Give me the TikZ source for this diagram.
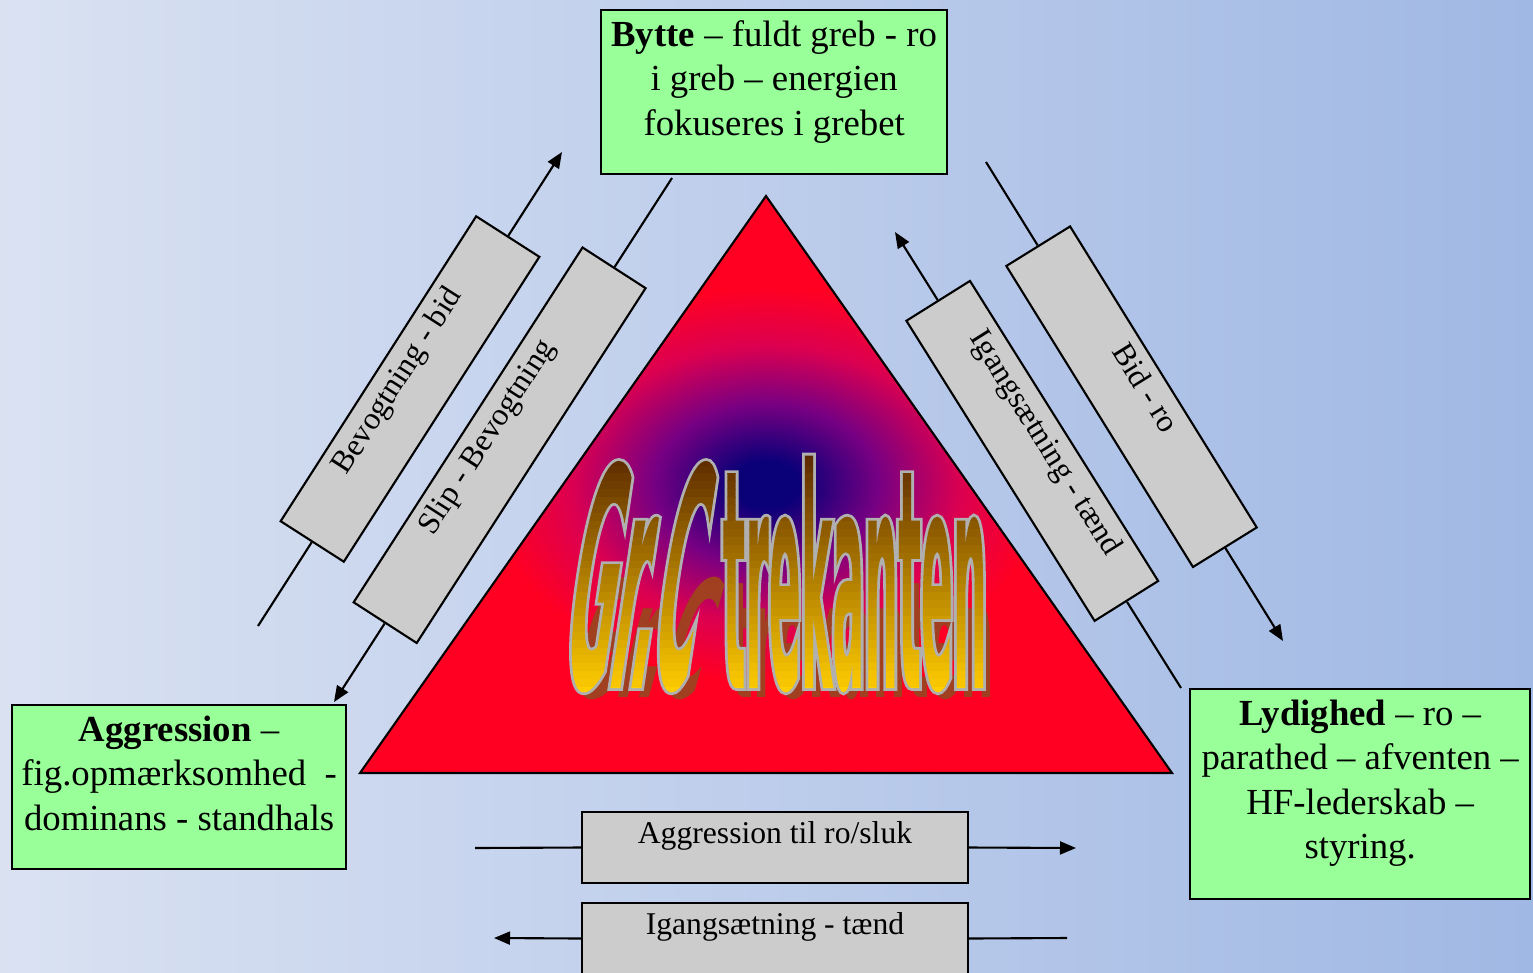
\documentclass[tikz,border=0pt]{standalone}
\usepackage{fontspec}
\setmainfont{Liberation Serif}
\usetikzlibrary{arrows.meta}

\newfontface\titlefont{DejaVu Sans Bold}[FakeStretch=0.155]
\newfontface\titleslant{DejaVu Sans Bold}[FakeStretch=0.185,FakeSlant=0.15]

\definecolor{bgleft}{RGB}{218,226,242}
\definecolor{bgright}{RGB}{160,184,228}
\definecolor{boxgreen}{RGB}{153,255,153}
\definecolor{boxgrey}{RGB}{204,204,204}
\definecolor{triin}{RGB}{10,0,120}
\definecolor{trimid}{RGB}{120,0,130}
\definecolor{trihot}{RGB}{220,0,80}
\definecolor{triout}{RGB}{255,0,35}
\definecolor{titletop}{RGB}{90,40,0}
\definecolor{titlebot}{RGB}{255,205,0}
\definecolor{titleshadow}{RGB}{160,64,32}

\pgfdeclareradialshading{trifill}{\pgfpoint{0bp}{0bp}}{%
  color(0bp)=(triin); color(2bp)=(triin); color(7bp)=(trimid);
  color(12bp)=(trihot); color(17bp)=(triout); color(50bp)=(triout)}

% title: text outline as clip, filled with a vertical gradient
\newcommand{\grctext}{\titlefont{\titleslant Gr.C}\hspace{5pt} trekanten}
\newlength\grcwd
\newcommand{\grcgradient}{%
  \settowidth{\grcwd}{\grctext}%
  \raisebox{-2pt}{\vbox{\offinterlineskip
    \foreach \k in {0,...,30}{%
      \pgfmathtruncatemacro\gp{100*\k/30}%
      \hbox{\color{titlebot!\gp!titletop}\rule{\grcwd}{2.5pt}}\kern-0.25pt}}}}
\newcommand{\grctitle}{%
  \special{pdf:literal direct q 0.69 0.69 0.69 RG 1.6 w 5 Tr}%
  \rlap{\grctext}%
  \special{pdf:literal direct 0 Tr}%
  \rlap{\grcgradient}%
  \special{pdf:literal direct Q}%
  \phantom{\grctext}}

\begin{document}
\begin{tikzpicture}[
    x=0.01cm, y=-0.01cm,
    line width=0.6pt,
    >={Triangle[length=0.16cm,width=0.13cm]},
    greenbox/.style={draw,fill=boxgreen,align=flush center,anchor=north west,inner xsep=0pt,inner ysep=0.1cm,text height=0.26cm,font=\fontsize{10.45}{12.66}\selectfont},
    greybox/.style={draw,fill=boxgrey,inner xsep=0pt,inner ysep=0.1cm,text height=0.21cm,text depth=0.3cm,font=\fontsize{9}{11}\selectfont},
    sidebox/.style={greybox,sloped,text depth=0.34cm},
    titlebox/.style={inner sep=0pt,anchor=base,font=\fontsize{87}{87}\selectfont}
  ]
  % Frame and background
  \useasboundingbox (0,0) rectangle (1533,972);
  \clip (0,0) rectangle (1533,972);
  \shade[left color=bgleft,right color=bgright] (0,0) rectangle (1533,972);

  % Triangle
  \coordinate (apex) at (766,196);
  \coordinate (baseL) at (360,773);
  \coordinate (baseR) at (1172,773);
  \shade[shading=trifill,draw=black] (baseL) -- (apex) -- (baseR) -- cycle;

  % Title and its shadow
  \node[titlebox,text=titleshadow,yscale=0.53] (grcshadow) at (781,697) {\grctext};
  \node[titlebox] (grc) at (773,688) {\grctitle};

  % Corner boxes
  \node[greenbox,text width=3.46cm,text depth=1.18cm] (bytte) at (600,9)
    {\textbf{Bytte} -- fuldt greb - ro\\ i greb -- energien\\ fokuseres i grebet};
  \node[greenbox,text width=3.34cm,text depth=1.18cm] (aggr) at (11,704)
    {\textbf{Aggression} --\\ fig.opmærksomhed\ \ -\\ dominans - standhals};
  \node[greenbox,text width=3.40cm,text depth=1.64cm] (lyd) at (1189,688)
    {\textbf{Lydighed} -- ro --\\ parathed -- afventen --\\ HF-lederskab --\\ styring.};

  % Left side, between Aggression and Bytte
  \coordinate (bevS) at (258,626);
  \coordinate (bevE) at (562,152);
  \path (bevS) -- node[sidebox,pos=0.5,minimum width=3.62cm] (bev) {Bevogtning - bid} (bevE);
  \draw (bevS) -- (bev.west);
  \draw[->] (bev.east) -- (bevE);

  \coordinate (slipS) at (672,178);
  \coordinate (slipE) at (334,702);
  \path (slipE) -- node[sidebox,pos=0.49,minimum width=4.22cm] (slip) {Slip - Bevogtning} (slipS);
  \draw (slipS) -- (slip.east);
  \draw[->] (slip.west) -- (slipE);

  % Right side, between Bytte and Lydighed
  \coordinate (igangS) at (1181,688);
  \coordinate (igangE) at (895,232);
  \path (igangE) -- node[sidebox,pos=0.48,minimum width=3.54cm] (igang) {Igangsætning - tænd} (igangS);
  \draw (igangS) -- (igang.east);
  \draw[->] (igang.west) -- (igangE);

  \coordinate (bidS) at (986,162);
  \coordinate (bidE) at (1283,641);
  \path (bidS) -- node[sidebox,pos=0.49,minimum width=3.54cm] (bid) {Bid - ro} (bidE);
  \draw (bidS) -- (bid.west);
  \draw[->] (bid.east) -- (bidE);

  % Bottom, between Aggression and Lydighed
  \coordinate (tilroS) at (475,848);
  \coordinate (tilroE) at (1076,848);
  \node[greybox,minimum width=3.86cm] (tilro) at (775,847.5) {Aggression til ro/sluk};
  \draw (tilroS) -- (tilro.west);
  \draw[->] (tilro.east) -- (tilroE);

  \coordinate (taendS) at (1067,938);
  \coordinate (taendE) at (494,938);
  \node[greybox,minimum width=3.86cm] (taend) at (775,938.5) {Igangsætning - tænd};
  \draw (taendS) -- (taend.east);
  \draw[->] (taend.west) -- (taendE);
\end{tikzpicture}
\end{document}
